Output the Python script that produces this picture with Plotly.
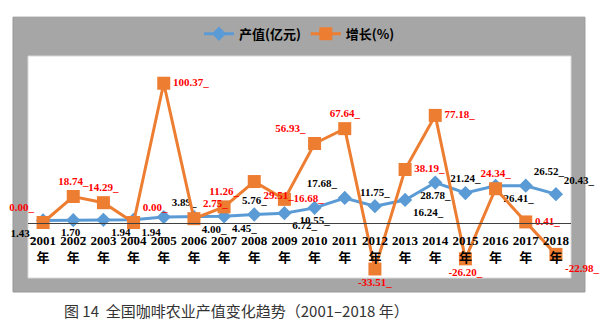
import plotly.graph_objects as go

years = ["2001", "2002", "2003", "2004", "2005", "2006", "2007", "2008", "2009",
         "2010", "2011", "2012", "2013", "2014", "2015", "2016", "2017", "2018"]
output_value = [1.43, 1.70, 1.94, 1.94, 3.89, 4.00, 4.45, 5.76, 6.72,
                10.55, 17.68, 11.75, 16.24, 28.78, 21.24, 26.41, 26.52, 20.43]
growth = [0.00, 18.74, 14.29, 0.00, 100.37, 2.75, 11.26, 29.51, 16.68,
          56.93, 67.64, -33.51, 38.19, 77.18, -26.20, 24.34, 0.41, -22.98]
tick_labels = [y + "<br>年" for y in years]

output_pos = ["bottom left", "bottom center", "bottom right", "bottom right", "top right",
              "bottom right", "bottom right", "top center", "bottom right", "bottom center",
              "top left", "top center", "bottom right", "bottom center", "top center",
              "bottom right", "top right", "top right"]
growth_pos = ["top left", "top center", "top center", "top right", "middle right",
              "top right", "top center", "bottom right", "middle right", "top left",
              "top center", "bottom center", "middle right", "middle right", "bottom center",
              "top center", "middle right", "bottom right"]

serif = "Times New Roman, Liberation Serif, Noto Sans CJK SC, serif"
cjk = "Noto Sans CJK SC, sans-serif"

fig = go.Figure()
fig.add_trace(go.Scatter(
    x=years, y=output_value, name="产值(亿元)", mode="lines+markers+text",
    line=dict(color="#5B9BD5", width=3),
    marker=dict(symbol="diamond", size=11, color="#5B9BD5"),
    text=["<b>%.2f_</b>" % v for v in output_value], textposition=output_pos,
    textfont=dict(family=serif, size=11, color="#000000"),
    cliponaxis=False,
))
fig.add_trace(go.Scatter(
    x=years, y=growth, name="增长(%)", mode="lines+markers+text",
    line=dict(color="#ED7D31", width=3),
    marker=dict(symbol="square", size=13, color="#ED7D31"),
    text=["<b>%.2f_</b>" % v for v in growth], textposition=growth_pos,
    textfont=dict(family=serif, size=11, color="#FF0000"),
    cliponaxis=False,
))

y_lo, y_hi = -40.0, 120.0
zero_frac = (0 - y_lo) / (y_hi - y_lo)

fig.update_layout(
    width=600, height=330,
    margin=dict(l=28, r=29, t=56, b=52),
    paper_bgcolor="#FFFFFF",
    plot_bgcolor="#FFFFFF",
    showlegend=True,
    legend=dict(orientation="h", x=0.5, xanchor="center", y=1.1, yanchor="middle",
                bgcolor="rgba(0,0,0,0)", font=dict(family=cjk, size=13, color="#000000",
                weight="bold"), itemwidth=30),
    xaxis=dict(type="category", range=[-0.5, 17.5], anchor="free", position=zero_frac,
               showline=True, linecolor="#404040", linewidth=1.2, showgrid=False,
               zeroline=False, ticks="", tickvals=years, ticktext=tick_labels,
               ticklabelstandoff=6,
               tickfont=dict(family=serif, size=13, color="#000000", weight="bold")),
    yaxis=dict(range=[y_lo, y_hi], visible=False, showgrid=False, zeroline=False),
    shapes=[
        dict(type="rect", xref="paper", yref="paper", x0=-0.0276, x1=1.0257, y0=-0.063, y1=1.175,
             fillcolor="#A6A6A6", line=dict(color="#989898", width=1), layer="below"),
        dict(type="rect", xref="paper", yref="paper", x0=0, x1=1, y0=0, y1=1,
             fillcolor="#FFFFFF", line=dict(color="#D9D9D9", width=1), layer="below"),
    ],
    annotations=[
        dict(text="图 14  全国咖啡农业产值变化趋势（2001–2018 年）", xref="paper", yref="paper",
             x=0.062, y=-0.148, xanchor="left", yanchor="middle", showarrow=False,
             font=dict(family=cjk, size=15, color="#333333")),
    ],
)

fig.write_html("out.html")
